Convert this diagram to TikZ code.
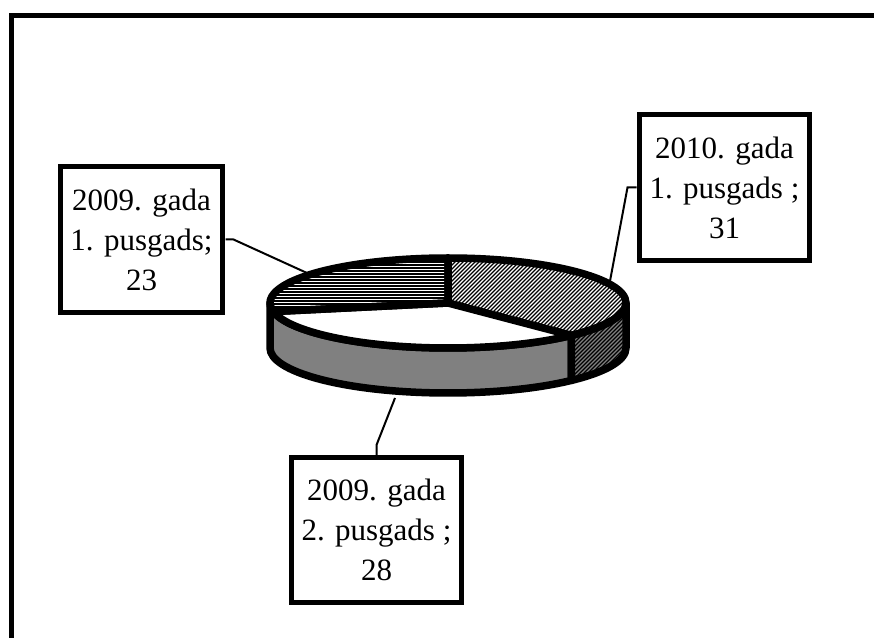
\documentclass[tikz,border=0pt]{standalone}
\usepackage{fontspec}
\setmainfont{Liberation Serif}
\usetikzlibrary{calc}

\tikzstyle{lS}=[rectangle,draw,line width=5pt,fill=white,inner sep=0pt,align=center,font=\fontsize{31}{40}\selectfont]
\tikzstyle{cS}=[line width=2pt]
\tikzstyle{pS}=[draw,line width=7.5pt,line join=round]
\tikzstyle{hS}=[line width=1.3pt]

\begin{document}
\begin{tikzpicture}[x=1pt,y=1pt]%[x=1 px, y=1 px]
                \useasboundingbox (0,0) rectangle (874,637);
                \draw[line width=5pt] (11.5,-20) -- (11.5,621.5) -- (900,621.5);
                \coordinate (c) at (448,334);
                \coordinate (p23) at (307,364);
                \coordinate (p31) at (610,356);
                \coordinate (p28) at (395,239);
                \draw[cS] (141.5,397.5) ++(84,0) -- ++(8,0) -- (p23);
                \draw[cS] (724.5,449.5) ++(-88,0) -- ++(-9,0) -- (p31);
                \draw[cS] (376.5,107) ++(0,75) -- ++(0,10) -- (p28);
                % side of the pie
                \draw[pS,fill=gray] ($(c)+(180:178 and 45)$) arc[start angle=180,end angle=313.9,x radius=178,y radius=45]
                    -- ++(0,-45) arc[start angle=313.9,end angle=180,x radius=178,y radius=45] -- cycle;
                \begin{scope}
                    \clip ($(c)+(313.9:178 and 45)$) arc[start angle=313.9,end angle=360,x radius=178,y radius=45]
                        -- ++(0,-45) arc[start angle=360,end angle=313.9,x radius=178,y radius=45] -- cycle;
                    \fill[gray] (560,230) rectangle (640,350);
                    \foreach \k in {224,228,...,392} \draw[hS,line width=1.1pt] (\k+220,220) -- (\k+380,380);
                \end{scope}
                \draw[pS] ($(c)+(313.9:178 and 45)$) arc[start angle=313.9,end angle=360,x radius=178,y radius=45]
                    -- ++(0,-45) arc[start angle=360,end angle=313.9,x radius=178,y radius=45] -- cycle;
                % top of the pie
                \begin{scope}
                    \clip (c) -- ($(c)+(90:178 and 45)$) arc[start angle=90,end angle=-46.1,x radius=178,y radius=45] -- cycle;
                    \foreach \k in {56,60,...,344} \draw[hS,line width=1.1pt] (\k+270,270) -- (\k+400,400);
                \end{scope}
                \draw[pS] (c) -- ($(c)+(90:178 and 45)$) arc[start angle=90,end angle=-46.1,x radius=178,y radius=45] -- cycle;
                \draw[pS,fill=white] (c) -- ($(c)+(-46.1:178 and 45)$) arc[start angle=-46.1,end angle=-169,x radius=178,y radius=45] -- cycle;
                \begin{scope}
                    \clip (c) -- ($(c)+(191:178 and 45)$) arc[start angle=191,end angle=90,x radius=178,y radius=45] -- cycle;
                    \foreach \y in {300,303,...,384} \draw[hS] (260,\y) -- (460,\y);
                \end{scope}
                \draw[pS] (c) -- ($(c)+(191:178 and 45)$) arc[start angle=191,end angle=90,x radius=178,y radius=45] -- cycle;
                % labels
                \draw (141.5,397.5) node[lS,minimum width=162pt,minimum height=146pt] (n23) {2009. gada\\1. pusgads;\\23};
                \draw (724.5,449.5) node[lS,minimum width=170pt,minimum height=146pt] (n31) {2010. gada\\1. pusgads ;\\31};
                \draw (376.5,107) node[lS,minimum width=170pt,minimum height=145pt] (n28) {2009. gada\\2. pusgads ;\\28};
        \end{tikzpicture}
\end{document}
